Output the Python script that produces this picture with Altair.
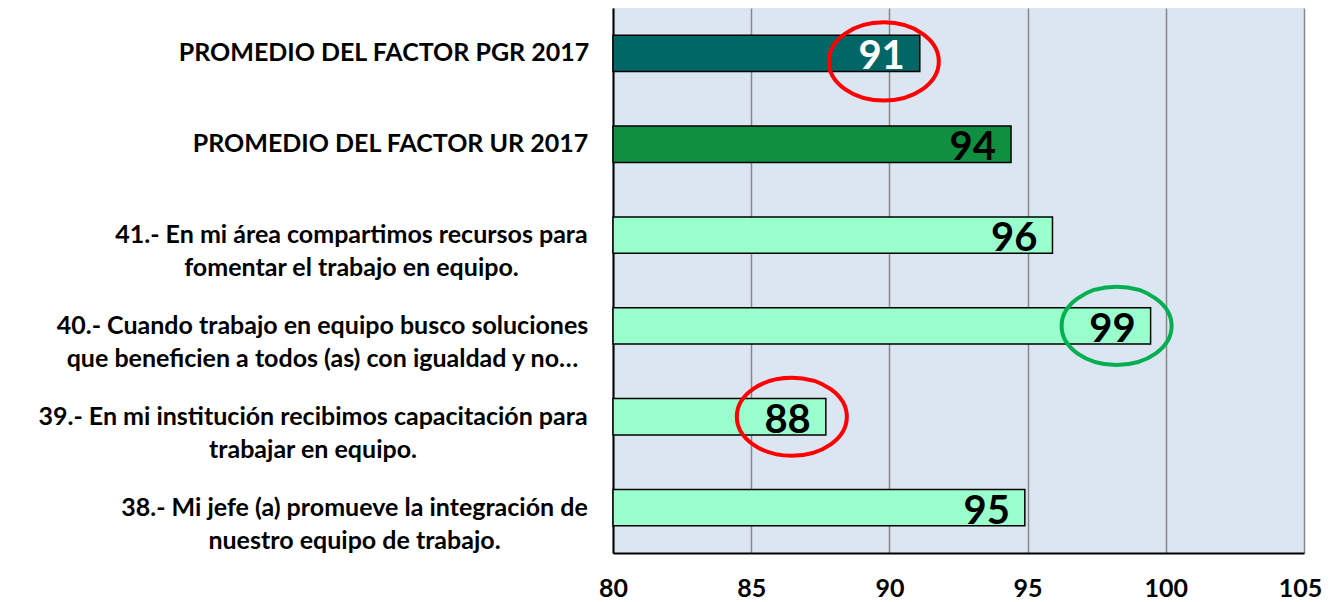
import json
import altair as alt
import pandas as pd

categorias = [
    "PROMEDIO DEL FACTOR PGR 2017",
    "PROMEDIO DEL FACTOR UR 2017",
    "41.- En mi área compartimos recursos para|fomentar el trabajo en equipo.",
    "40.- Cuando trabajo en equipo busco soluciones|que beneficien a todos (as) con igualdad y no…",
    "39.- En mi institución recibimos capacitación para|trabajar en equipo.",
    "38.- Mi jefe (a) promueve la integración de|nuestro equipo de trabajo.",
]
valores = [91.1, 94.4, 95.9, 99.45, 87.7, 94.9]
grupos = ["PGR", "UR", "Reactivo", "Reactivo", "Reactivo", "Reactivo"]
resaltado = ["bajo", "", "", "alto", "bajo", ""]
ticks_x = [80, 85, 90, 95, 100, 105]

df = pd.DataFrame({"cat": categorias, "valor": valores, "grupo": grupos, "resaltado": resaltado})

# distance from axis to centre of each label block (px)
label_pad = [229.5, 223, 262, 291, 300.5, 259]
pad_cond = [
    {"test": f"datum.value === {json.dumps(c, ensure_ascii=False)}", "value": p}
    for c, p in zip(categorias, label_pad)
]

y = alt.Y(
    "cat:N",
    sort=categorias,
    scale=alt.Scale(paddingInner=0.6, paddingOuter=0.3),
    axis=alt.Axis(
        title=None,
        ticks=False,
        domainColor="black",
        domainWidth=2,
        labelExpr="split(datum.label, '|')",
        labelAlign="center",
        labelBaseline="middle",
        labelPadding={"condition": pad_cond, "value": 250},
        labelFont="Lato",
        labelFontSize=25,
        labelFontWeight="bold",
        labelColor="black",
        labelLimit=0,
        labelLineHeight=33,
        labelOverlap=False,
    ),
)

x = alt.X(
    "valor:Q",
    scale=alt.Scale(domain=[80, 105], nice=False, zero=False),
    axis=alt.Axis(
        values=ticks_x,
        title=None,
        ticks=False,
        grid=True,
        gridColor="#878787",
        gridWidth=1.5,
        domainColor="black",
        domainWidth=2,
        labelFont="Lato",
        labelFontSize=25,
        labelFontWeight="bold",
        labelColor="black",
        labelPadding=23,
        labelFlush=False,
        labelOffset={"condition": {"test": "datum.value === 105", "value": -4}, "value": 0},
    ),
)

bars = alt.Chart().mark_bar(stroke="black", strokeWidth=1.5).encode(
    x2=alt.datum(80),
    color=alt.Color(
        "grupo:N",
        scale=alt.Scale(domain=["PGR", "UR", "Reactivo"], range=["#006666", "#0f8f3f", "#99ffcc"]),
        legend=None,
    ),
)

text = alt.Chart().mark_text(
    align="right", baseline="alphabetic", dx=-15, dy=16,
    font="Lato", fontSize=40, fontWeight="bold",
).encode(
    text=alt.Text("valor:Q", format=".0f"),
    color=alt.condition(alt.datum.grupo == "PGR", alt.value("white"), alt.value("black")),
)

ellipse_path = "M-1,0A1,0.71,0,1,1,1,0A1,0.71,0,1,1,-1,0Z"
stroke_enc = alt.Stroke(
    "resaltado:N",
    scale=alt.Scale(domain=["bajo", "alto"], range=["#ff0000", "#00b050"]),
    legend=None,
)
ellipses_top = alt.Chart().transform_filter(
    (alt.datum.resaltado != "") & (alt.datum.grupo == "PGR")
).mark_point(
    shape=ellipse_path, size=12100, filled=False, strokeWidth=4, xOffset=-36, yOffset=8, opacity=1
).encode(stroke=stroke_enc)

ellipses = alt.Chart().transform_filter(
    (alt.datum.resaltado != "") & (alt.datum.grupo != "PGR")
).mark_point(
    shape=ellipse_path, size=12100, filled=False, strokeWidth=4, xOffset=-34, opacity=1
).encode(stroke=stroke_enc)

chart = (
    alt.layer(bars, text, ellipses_top, ellipses, data=df)
    .encode(x=x, y=y)
    .properties(
        width=691,
        height=545,
        autosize=alt.AutoSizeParams(type="none"),
        padding={"left": 605, "top": 0, "right": 20, "bottom": 48},
        background="white",
    )
    .configure_view(fill="#dce6f2", stroke=None)
)

chart.save("out.html", embed_options={"renderer": "svg", "actions": False})
